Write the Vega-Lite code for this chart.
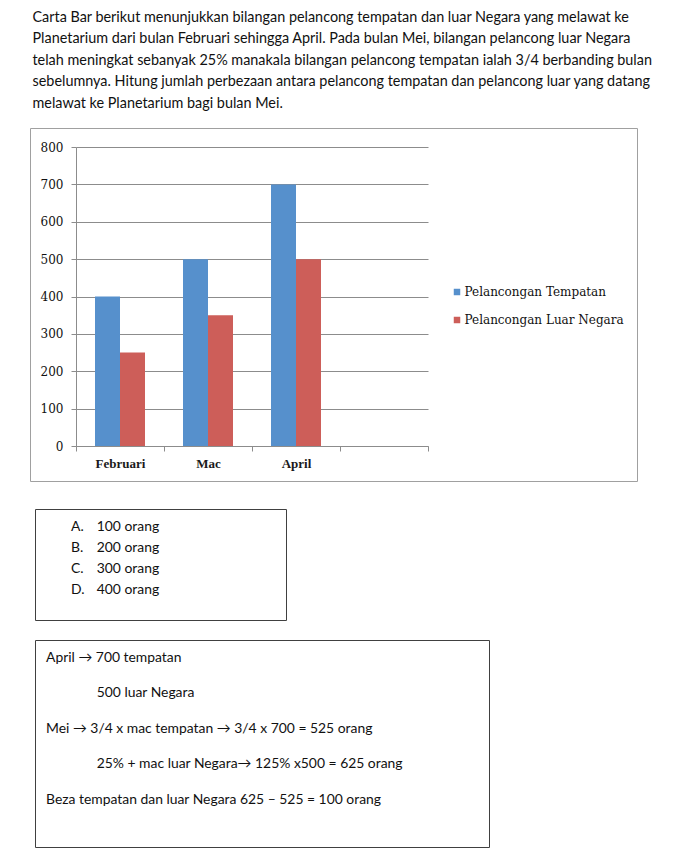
{
  "$schema": "https://vega.github.io/schema/vega-lite/v6.json",
  "background": "white",
  "padding": {"left": 29, "top": 9, "right": 0, "bottom": 0},
  "title": {
    "text": [
      "Carta Bar berikut menunjukkan bilangan pelancong tempatan dan luar Negara yang melawat ke",
      "Planetarium dari bulan Februari sehingga April. Pada bulan Mei, bilangan pelancong luar Negara",
      "telah meningkat sebanyak 25% manakala bilangan pelancong tempatan ialah 3/4 berbanding bulan",
      "sebelumnya. Hitung jumlah perbezaan antara pelancong tempatan dan pelancong luar yang datang",
      "melawat ke Planetarium bagi bulan Mei."
    ],
    "anchor": "start",
    "dx": 3,
    "font": "Lato",
    "fontSize": 14.4,
    "fontWeight": "normal",
    "color": "#111111",
    "lineHeight": 21.6,
    "offset": 16
  },
  "spacing": 26,
  "resolve": {"scale": {"color": "independent"}, "legend": {"color": "independent"}},
  "vconcat": [
    {
      "width": 607,
      "height": 353,
      "view": {"stroke": "#a0a0a0", "strokeWidth": 1},
      "data": {
        "values": [
          {"bulan": "Februari", "jenis": "Pelancongan Tempatan", "bilangan": 400},
          {"bulan": "Februari", "jenis": "Pelancongan Luar Negara", "bilangan": 250},
          {"bulan": "Mac", "jenis": "Pelancongan Tempatan", "bilangan": 500},
          {"bulan": "Mac", "jenis": "Pelancongan Luar Negara", "bilangan": 350},
          {"bulan": "April", "jenis": "Pelancongan Tempatan", "bilangan": 700},
          {"bulan": "April", "jenis": "Pelancongan Luar Negara", "bilangan": 500}
        ]
      },
      "mark": {"type": "bar"},
      "encoding": {
        "x": {
          "field": "bulan",
          "type": "nominal",
          "scale": {
            "domain": ["Februari", "Mac", "April", "Mei"],
            "range": [46, 398],
            "paddingInner": 0,
            "paddingOuter": 0
          },
          "axis": {
            "title": null,
            "offset": -35,
            "labelAngle": 0,
            "labelExpr": "datum.label == 'Mei' ? '' : datum.label",
            "domainColor": "#8c8c8c",
            "tickColor": "#8c8c8c",
            "tickBand": "extent",
            "tickSize": 5,
            "labelPadding": 6,
            "labelFont": "Liberation Serif",
            "labelFontWeight": "bold",
            "labelFontSize": 13,
            "labelColor": "#1a1a1a",
            "grid": false
          }
        },
        "xOffset": {
          "field": "jenis",
          "type": "nominal",
          "sort": ["Pelancongan Tempatan", "Pelancongan Luar Negara"],
          "scale": {"paddingInner": 0, "paddingOuter": 0.76}
        },
        "y": {
          "field": "bilangan",
          "type": "quantitative",
          "scale": {"domain": [0, 800], "range": [318, 19], "nice": false},
          "axis": {
            "title": null,
            "offset": -46,
            "values": [0, 100, 200, 300, 400, 500, 600, 700, 800],
            "grid": true,
            "gridColor": "#8c8c8c",
            "gridOpacity": 1,
            "domainColor": "#8c8c8c",
            "tickColor": "#8c8c8c",
            "tickSize": 5,
            "labelPadding": 8,
            "labelFont": "DejaVu Serif",
            "labelFontSize": 12,
            "labelColor": "#111111"
          }
        },
        "color": {
          "field": "jenis",
          "type": "nominal",
          "scale": {
            "domain": ["Pelancongan Tempatan", "Pelancongan Luar Negara"],
            "range": ["#5690CC", "#CD5E59"]
          },
          "legend": {
            "orient": "none",
            "legendX": 421,
            "legendY": 158,
            "title": null,
            "padding": 0,
            "direction": "vertical",
            "symbolType": "square",
            "symbolSize": 42,
            "symbolStrokeWidth": 0,
            "labelFont": "DejaVu Serif",
            "labelFontSize": 12,
            "labelColor": "#111111",
            "labelOffset": 1.5,
            "rowPadding": 16
          }
        }
      }
    },
    {
      "spacing": 0,
      "hconcat": [
        {
          "width": 4,
          "height": 10,
          "data": {"values": []},
          "mark": "point",
          "encoding": {}
        },
        {
          "spacing": 18,
          "vconcat": [
            {
              "width": 251,
              "height": 111,
              "view": {"stroke": "#404040", "strokeWidth": 1},
              "data": {
                "values": [
                  {"baris": 1, "lajur": "huruf", "teks": "A."},
                  {"baris": 1, "lajur": "jawapan", "teks": "100 orang"},
                  {"baris": 2, "lajur": "huruf", "teks": "B."},
                  {"baris": 2, "lajur": "jawapan", "teks": "200 orang"},
                  {"baris": 3, "lajur": "huruf", "teks": "C."},
                  {"baris": 3, "lajur": "jawapan", "teks": "300 orang"},
                  {"baris": 4, "lajur": "huruf", "teks": "D."},
                  {"baris": 4, "lajur": "jawapan", "teks": "400 orang"}
                ]
              },
              "mark": {"type": "text", "align": "left", "baseline": "alphabetic", "font": "Lato", "fontSize": 13.9, "color": "#111111"},
              "encoding": {
                "x": {"field": "lajur", "type": "nominal", "scale": {"type": "point", "domain": ["huruf", "jawapan"], "range": [36, 61.7], "padding": 0}, "axis": null},
                "y": {"field": "baris", "type": "ordinal", "scale": {"type": "point", "range": [21.7, 85.3], "padding": 0}, "axis": null},
                "text": {"field": "teks"}
              }
            },
            {
              "width": 454,
              "height": 207,
              "view": {"stroke": "#404040", "strokeWidth": 1},
              "data": {
                "values": [
                  {"baris": 1, "inden": 0, "teks": "April → 700 tempatan"},
                  {"baris": 2, "inden": 1, "teks": "500 luar Negara"},
                  {"baris": 3, "inden": 0, "teks": "Mei → 3/4 x mac tempatan → 3/4 x 700 = 525 orang"},
                  {"baris": 4, "inden": 1, "teks": "25% + mac luar Negara→ 125% x500 = 625 orang"},
                  {"baris": 5, "inden": 0, "teks": "Beza tempatan dan luar Negara 625 – 525 = 100 orang"}
                ]
              },
              "mark": {"type": "text", "align": "left", "baseline": "alphabetic", "font": "Lato", "fontSize": 13.9, "color": "#111111"},
              "encoding": {
                "x": {"field": "inden", "type": "quantitative", "scale": {"domain": [0, 1], "range": [11, 61.7], "zero": false, "nice": false}, "axis": null},
                "y": {"field": "baris", "type": "ordinal", "scale": {"type": "point", "range": [21.7, 164], "padding": 0}, "axis": null},
                "text": {"field": "teks"}
              }
            }
          ]
        }
      ]
    }
  ],
  "config": {
    "view": {"stroke": null},
    "axis": {"domainWidth": 1, "tickWidth": 1, "gridWidth": 1}
  }
}
